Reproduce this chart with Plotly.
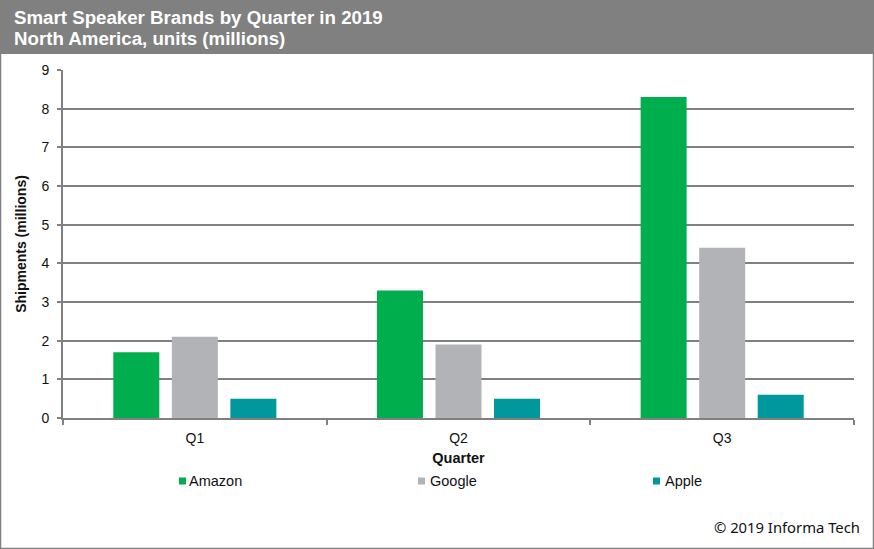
import plotly.graph_objects as go

quarters = ["Q1", "Q2", "Q3"]
amazon = [1.7, 3.3, 8.3]
google = [2.1, 1.9, 4.4]
apple = [0.5, 0.5, 0.6]

brands = ["Amazon", "Google", "Apple"]
colors = ["#00AE4D", "#B1B3B6", "#00979D"]
series = [amazon, google, apple]

W, H = 874, 549
L, R, T, B = 63, 20, 70, 131
GRAY = "#808080"


# pixel position on the page -> paper coordinates
def px(x):
    return (x - L) / (W - L - R)


def py(y):
    return 1 - (y - T) / (H - T - B)


fig = go.Figure()
for name, vals, color in zip(brands, series, colors):
    fig.add_trace(go.Bar(x=quarters, y=vals, name=name, marker_color=color,
                         marker_line_width=0, showlegend=False))

shapes = [
    # header band and page frame
    dict(type="rect", xref="paper", yref="paper", x0=px(0), x1=px(W), y0=py(54), y1=py(0),
         fillcolor=GRAY, line_width=0, layer="below"),
    dict(type="rect", xref="paper", yref="paper", x0=px(0.5), x1=px(W - 0.5), y0=py(H - 0.5), y1=py(0),
         fillcolor="rgba(0,0,0,0)", line=dict(color=GRAY, width=1.5), layer="below"),
]
annotations = [
    # second header line, separate because the line spacing is tighter than plotly's
    dict(text="North America, units (millions)", xref="paper", yref="paper", x=px(12), y=py(38),
         xanchor="left", yanchor="middle", showarrow=False,
         font=dict(size=18.7, color="white", weight="bold")),
    dict(text="© 2019 Informa Tech", xref="paper", yref="paper", x=px(862), y=py(527),
         xanchor="right", yanchor="middle", showarrow=False,
         font=dict(family="Noto Sans", size=14.8, color="#111111")),
]

# legend drawn by hand, the items sit far apart
legend_x = [179, 418, 653]
legend_text_x = [187, 428, 663]
for name, color, lx, tx in zip(brands, colors, legend_x, legend_text_x):
    shapes.append(dict(type="rect", xref="paper", yref="paper", x0=px(lx), x1=px(lx + 7),
                       y0=py(484.5), y1=py(477.5), fillcolor=color, line_width=0))
    annotations.append(dict(text=name, xref="paper", yref="paper", x=px(tx), y=py(481),
                            xanchor="left", yanchor="middle", showarrow=False,
                            font=dict(size=14.5, color="#111111")))

fig.update_layout(
    width=W, height=H,
    margin=dict(l=L, r=R, t=T, b=B),
    paper_bgcolor="white", plot_bgcolor="white",
    font=dict(family="Liberation Sans", size=14, color="#111111"),
    title=dict(text="Smart Speaker Brands by Quarter in 2019",
               x=14 / W, xanchor="left", xref="container", y=1 - 17 / H, yanchor="middle",
               font=dict(family="Liberation Sans", size=18.7, color="white", weight="bold")),
    barmode="group", bargap=0.334, bargroupgap=0.214,
    shapes=shapes, annotations=annotations,
)
fig.update_xaxes(title=dict(text="Quarter", font=dict(size=14.5, weight="bold"), standoff=8),
                 tickson="boundaries", ticks="outside", ticklen=5, tickwidth=2, tickcolor=GRAY,
                 ticklabelstandoff=6,
                 showline=True, linecolor=GRAY, linewidth=2, showgrid=False)
fig.update_yaxes(title=dict(text="Shipments (millions)", font=dict(size=14, weight="bold"), standoff=12),
                 range=[0, 9], dtick=1, ticks="outside", ticklen=4, tickwidth=2, tickcolor=GRAY,
                 ticklabelstandoff=5,
                 showline=True, linecolor=GRAY, linewidth=2,
                 showgrid=True, gridcolor=GRAY, gridwidth=2, zeroline=False)

# the page's default body margin would push the chart 8px in
fig.write_html("out.html", config={"displayModeBar": False},
               post_script="document.body.style.margin='0';")
